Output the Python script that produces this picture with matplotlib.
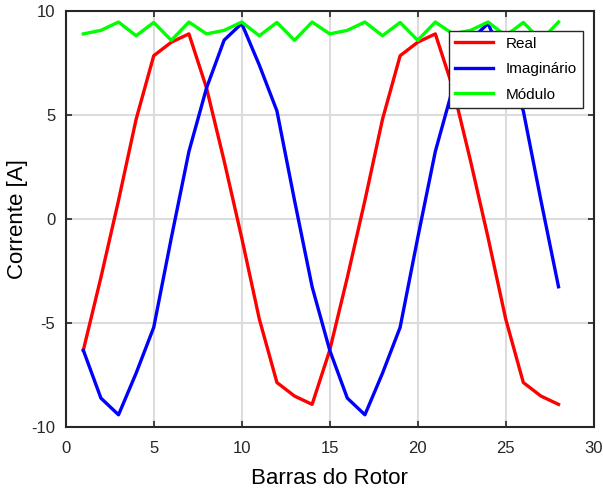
import numpy as np
import matplotlib
matplotlib.use('Agg')
import matplotlib.pyplot as plt

plt.rcParams['font.family'] = ['Liberation Sans', 'DejaVu Sans']
plt.rcParams['axes.unicode_minus'] = False

barras = np.arange(1, 29)
real = [-6.3, -2.8, 0.9, 4.8, 7.85, 8.5, 8.9,
        6.3, 2.8, -0.9, -4.8, -7.85, -8.5, -8.9,
        -6.3, -2.8, 0.9, 4.8, 7.85, 8.5, 8.9,
        6.3, 2.8, -0.9, -4.8, -7.85, -8.5, -8.9]
imag = [-6.3, -8.6, -9.4, -7.4, -5.2, -0.9, 3.25,
        6.3, 8.6, 9.4, 7.4, 5.2, 0.9, -3.25,
        -6.3, -8.6, -9.4, -7.4, -5.2, -0.9, 3.25,
        6.3, 8.6, 9.4, 7.4, 5.2, 0.9, -3.25]
modulo = [8.9, 9.07, 9.47, 8.81, 9.45, 8.59, 9.47,
          8.9, 9.07, 9.47, 8.81, 9.45, 8.59, 9.47,
          8.9, 9.07, 9.47, 8.81, 9.45, 8.59, 9.47,
          8.9, 9.07, 9.47, 8.81, 9.45, 8.59, 9.47]

fig = plt.figure(figsize=(6.03, 4.93), dpi=100)
ax = fig.add_axes([0.109, 0.1333, 0.8756, 0.8444])

ax.plot(barras, real, color='#ff0000', lw=2.4, label='Real')
ax.plot(barras, imag, color='#0000ff', lw=2.4, label='Imaginário')
ax.plot(barras, modulo, color='#00ff00', lw=2.4, label='Módulo')

ax.set_xlim(0, 30)
ax.set_ylim(-10, 10)
ax.set_xticks(range(0, 31, 5))
ax.set_yticks(range(-10, 11, 5))
ax.grid(True, color='#dcdcdc', lw=1.5)
ax.set_axisbelow(True)
ax.tick_params(direction='in', top=True, right=True, length=4, width=1.2,
               labelsize=12, colors='#262626')
ax.tick_params(axis='x', pad=10)
ax.tick_params(axis='y', pad=7.5)
for s in ax.spines.values():
    s.set_color('#262626')
    s.set_linewidth(1.5)

ax.set_xlabel('Barras do Rotor', fontsize=16)
ax.set_ylabel('Corrente [A]', fontsize=16)
ax.xaxis.set_label_coords(0.5, -0.098)
ax.yaxis.set_label_coords(-0.071, 0.5)

leg = ax.legend(loc='upper right', bbox_to_anchor=(0.979, 0.953), borderaxespad=0,
                fontsize=11, fancybox=False, framealpha=1, edgecolor='#262626',
                handlelength=2.5, handletextpad=0.8, labelspacing=0.75)
leg.get_frame().set_linewidth(1.0)

fig.savefig('out.png', dpi=100)
